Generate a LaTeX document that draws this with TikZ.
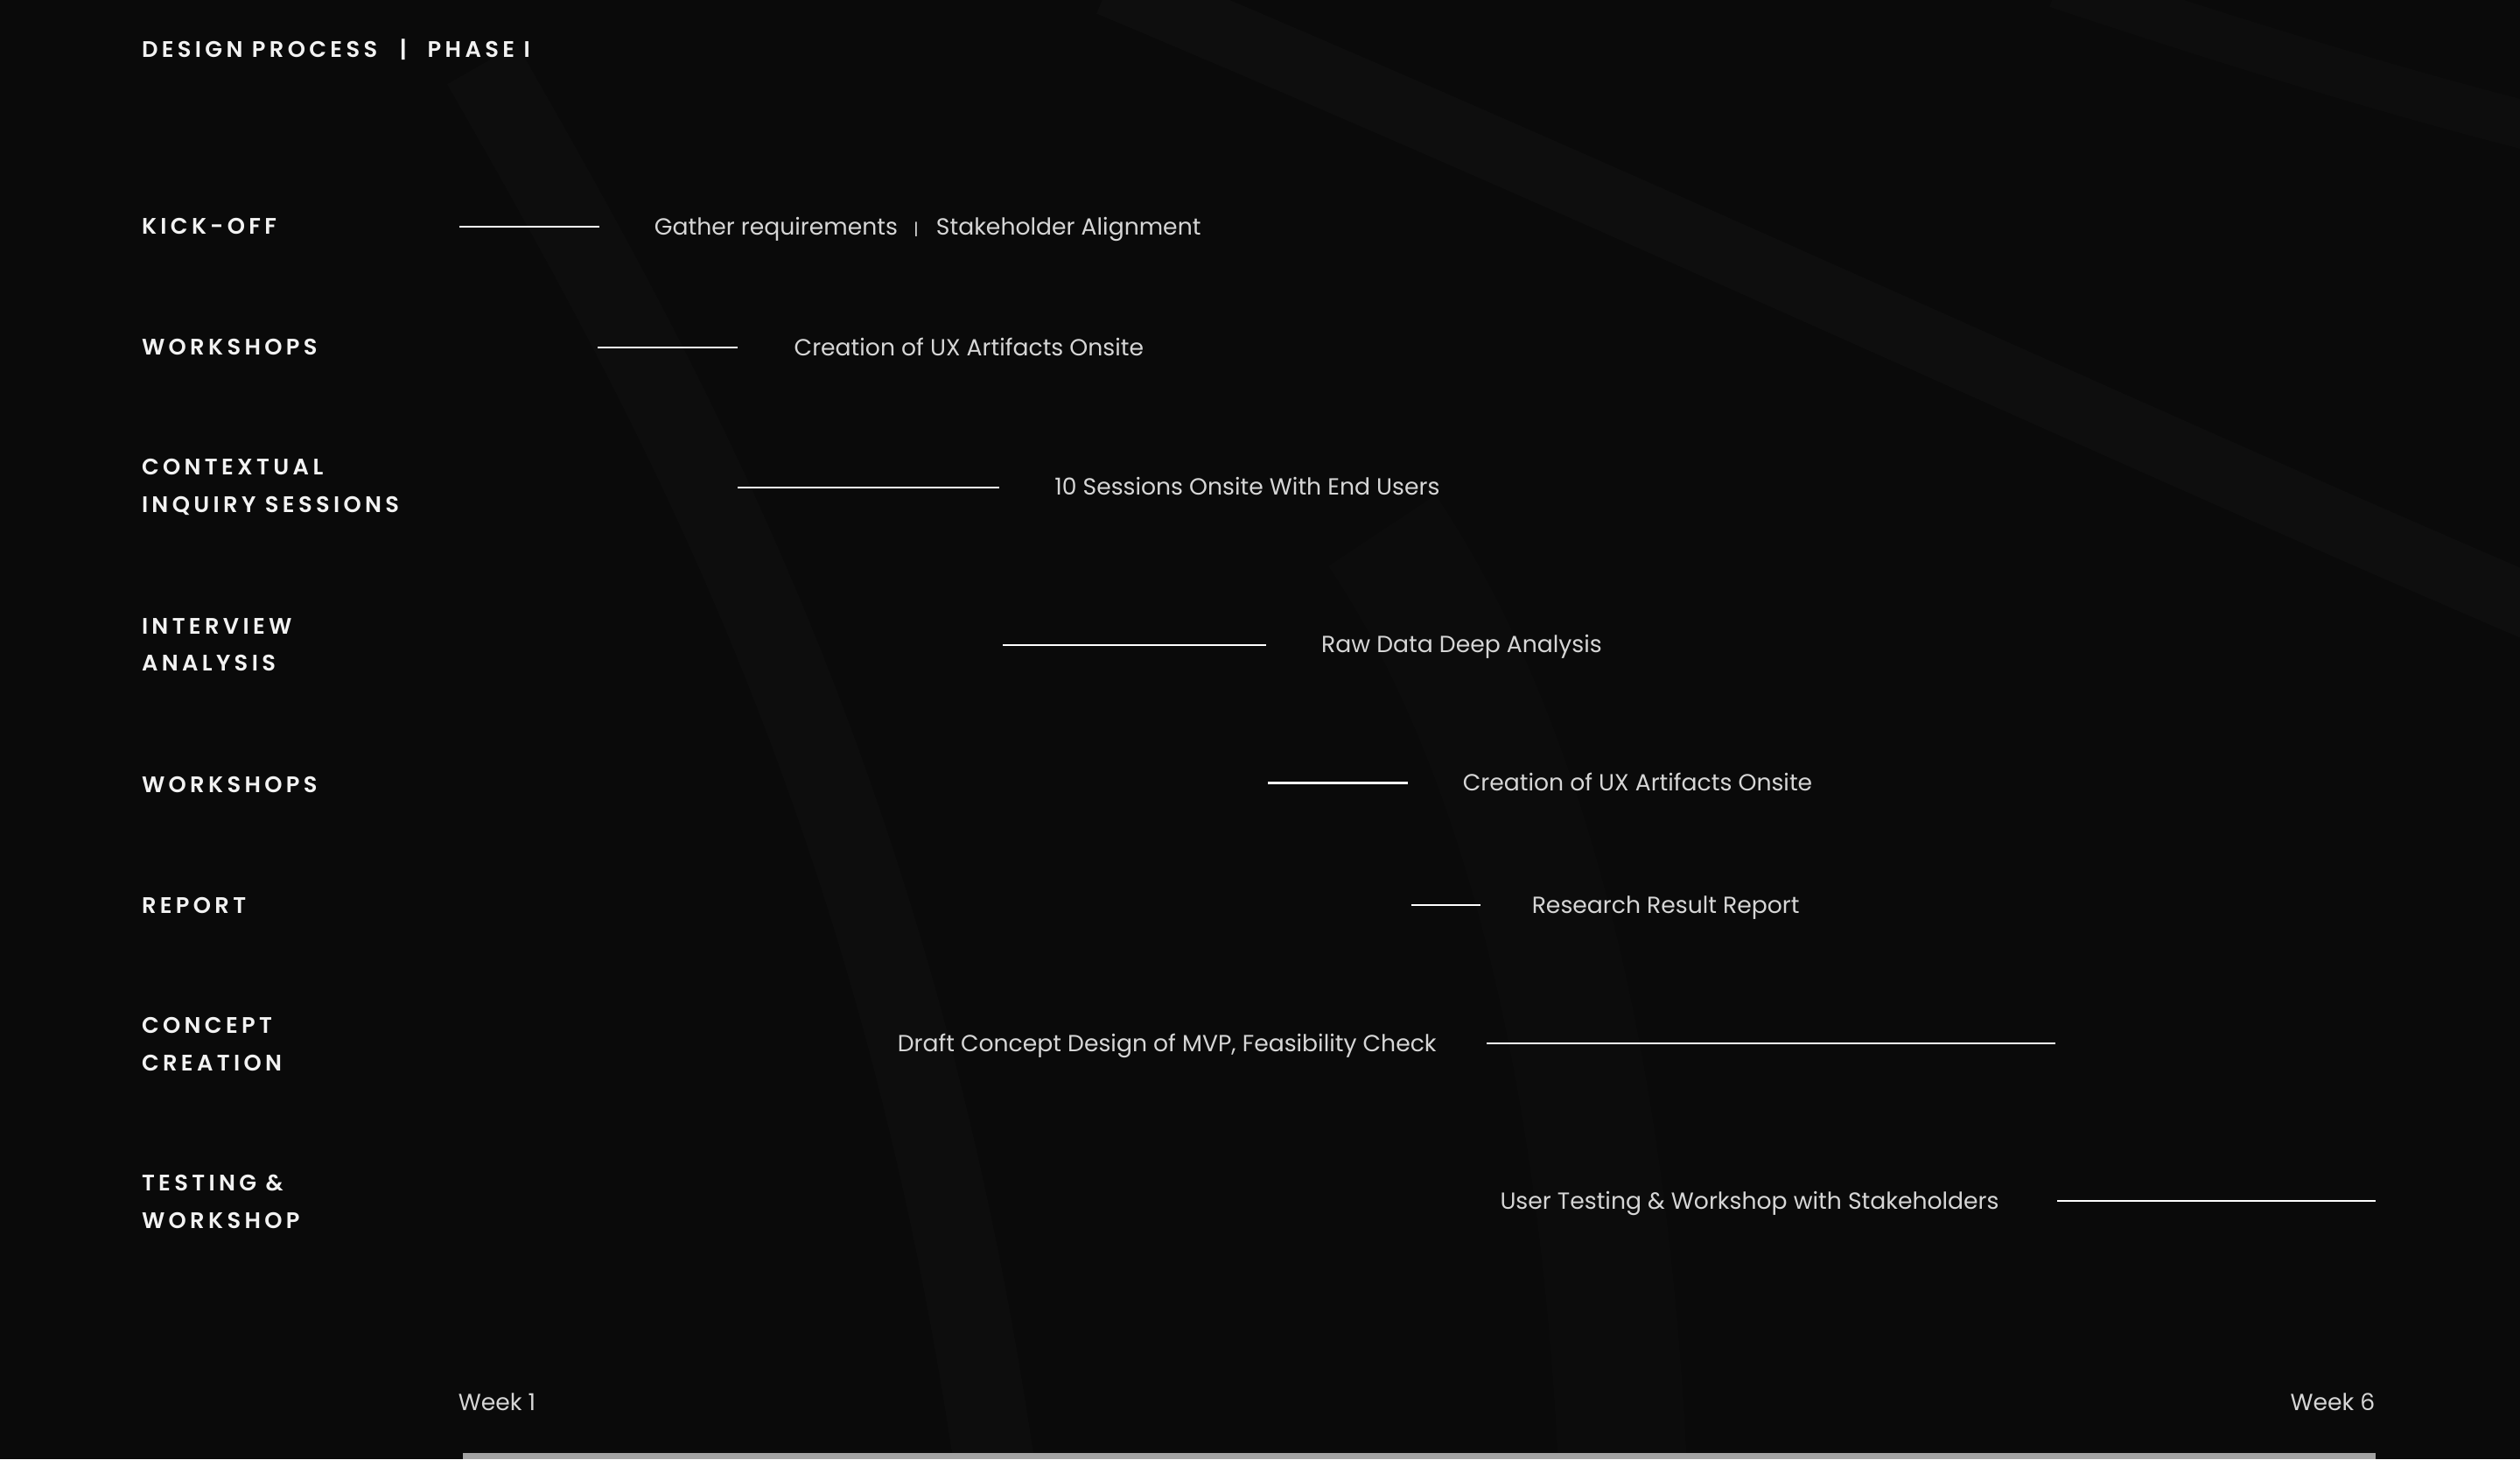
\documentclass[tikz,border=0pt]{standalone}
\usepackage{fontspec}
\setmainfont{Poppins}
\newfontfamily\lblfont[LetterSpace=17,BoldFont={Poppins SemiBold}]{Poppins}
\usetikzlibrary{positioning}

\definecolor{bg}{HTML}{0A0A0A}
\definecolor{lblcol}{HTML}{F2F2F2}
\definecolor{taskcol}{HTML}{D6D6D6}
\definecolor{barcol}{HTML}{A3A3A3}

\tikzset{
  lbl/.style={anchor=west,inner sep=0pt,text=lblcol,font=\lblfont\bfseries\fontsize{14}{23}\selectfont,align=left},
  task/.style={inner sep=0pt,text height=10.2pt,text depth=0pt,text=taskcol,font=\fontsize{14.5}{17}\selectfont},
  span/.style={draw=white,line width=1.1pt},
}

\begin{document}
\begin{tikzpicture}[x=1pt,y=-1pt]
  \useasboundingbox [fill=bg] (0,0) rectangle (1568,907.6);
  % faint streaks in the background
  \draw [white,opacity=0.018,line width=40pt] (690,-10) .. controls (1000,120) and (1300,260) .. (1580,380);
  \draw [white,opacity=0.015,line width=30pt] (1280,-10) .. controls (1400,30) and (1500,60) .. (1580,80);
  \draw [white,opacity=0.015,line width=50pt] (300,40) .. controls (420,250) and (560,500) .. (620,920);
  \draw [white,opacity=0.012,line width=80pt] (860,330) .. controls (960,480) and (1000,700) .. (1010,920);

  \node [lbl] (title) at (88,31) {DESIGN PROCESS\hspace{14pt}|\hspace{13pt}PHASE I};

  \node [lbl] (l1) at (88,141) {KICK-OFF};
  \node [lbl] (l2) at (88,216) {WORKSHOPS};
  \node [lbl] (l3) at (88,303) {CONTEXTUAL\\INQUIRY SESSIONS};
  \node [lbl] (l4) at (88,401) {INTERVIEW\\ANALYSIS};
  \node [lbl] (l5) at (88,488) {WORKSHOPS};
  \node [lbl] (l6) at (88,563) {REPORT};
  \node [lbl] (l7) at (88,649.5) {CONCEPT\\CREATION};
  \node [lbl] (l8) at (88,747.5) {TESTING \&\\WORKSHOP};

  \coordinate (a1) at (286,141);   \coordinate (b1) at (373,141);
  \coordinate (a2) at (372,216);   \coordinate (b2) at (459,216);
  \coordinate (a3) at (459,303);   \coordinate (b3) at (622,303);
  \coordinate (a4) at (624,401);   \coordinate (b4) at (788,401);
  \coordinate (a5) at (789,487);   \coordinate (b5) at (876,487);
  \coordinate (a6) at (878,563);   \coordinate (b6) at (921,563);
  \coordinate (a7) at (925,649);   \coordinate (b7) at (1279,649);
  \coordinate (a8) at (1280,747);  \coordinate (b8) at (1478,747);

  \node [task,right=34pt of b1] (t1) {Gather requirements\hspace{10pt}{\color{taskcol!80}\fontsize{10}{10}\selectfont|}\hspace{11pt}Stakeholder Alignment};
  \node [task,right=35pt of b2] (t2) {Creation of UX Artifacts Onsite};
  \node [task,right=34pt of b3] (t3) {10 Sessions Onsite With End Users};
  \node [task,right=34pt of b4] (t4) {Raw Data Deep Analysis};
  \node [task,right=34pt of b5] (t5) {Creation of UX Artifacts Onsite};
  \node [task,right=32pt of b6] (t6) {Research Result Report};
  \node [task,left=31pt of a7] (t7) {Draft Concept Design of MVP, Feasibility Check};
  \node [task,left=36pt of a8] (t8) {User Testing \& Workshop with Stakeholders};

  \foreach \i in {1,...,8}
    \draw [span] (a\i) -- (b\i);

  \node [task,anchor=west] (w1) at (285,872) {Week 1};
  \node [task,anchor=east] (w6) at (1478,872) {Week 6};
  \fill [barcol] (288,904) rectangle (1478,907.6);
\end{tikzpicture}
\end{document}
